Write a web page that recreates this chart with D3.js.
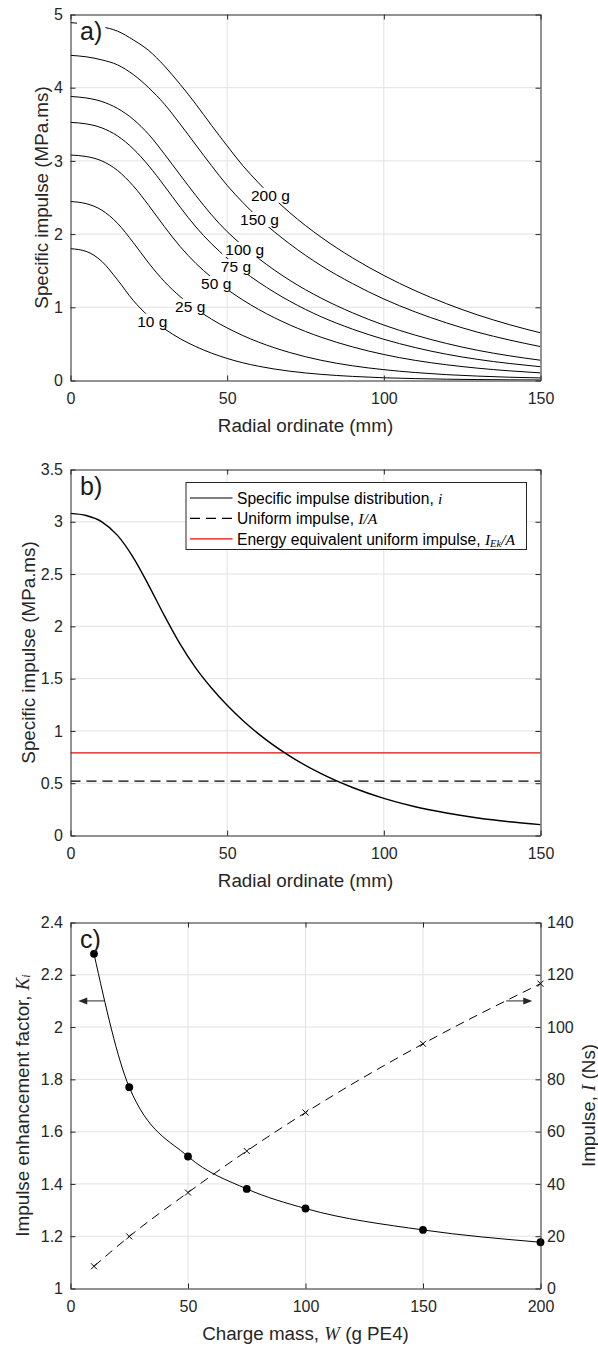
<!DOCTYPE html>
<html>
<head>
<meta charset="utf-8">
<script src="https://cdn.jsdelivr.net/npm/d3@7/dist/d3.min.js"></script>
<style>
html,body{margin:0;padding:0;background:#fff;}
svg{display:block;}
</style>
</head>
<body>
<svg id="chart" width="598" height="1347" xmlns="http://www.w3.org/2000/svg"></svg>
<script>
// ---------------- data ----------------
// panel a) specific impulse profiles vs radial ordinate (mm)
const radial = [0,5,10,15,20,25,30,35,40,45,50,55,60,70,80,90,100,110,120,130,140,150];
const chargeLabels = ["10 g","25 g","50 g","75 g","100 g","150 g","200 g"];
const imp10  = [1.801,1.764,1.627,1.375,1.095,0.875,0.706,0.571,0.463,0.374,0.301,0.242,0.195,0.127,0.084,0.056,0.037,0.026,0.018,0.013,0.009,0.007];
const imp25  = [2.445,2.416,2.327,2.148,1.887,1.602,1.350,1.146,0.979,0.838,0.718,0.614,0.525,0.382,0.276,0.201,0.148,0.109,0.080,0.060,0.045,0.035];
const imp50  = [3.080,3.060,3.000,2.870,2.660,2.390,2.100,1.830,1.600,1.410,1.245,1.100,0.972,0.759,0.591,0.459,0.355,0.275,0.215,0.168,0.132,0.104];
const imp75  = [3.526,3.506,3.451,3.341,3.166,2.932,2.656,2.368,2.098,1.868,1.671,1.498,1.345,1.083,0.871,0.702,0.563,0.450,0.359,0.288,0.233,0.188];
const imp100 = [3.880,3.860,3.811,3.717,3.569,3.360,3.092,2.808,2.527,2.264,2.033,1.841,1.668,1.368,1.125,0.925,0.757,0.620,0.506,0.412,0.338,0.277];
const imp150 = [4.442,4.422,4.380,4.312,4.181,3.998,3.774,3.503,3.218,2.935,2.665,2.432,2.220,1.865,1.569,1.324,1.113,0.937,0.787,0.659,0.554,0.463];
const imp200 = [4.889,4.869,4.832,4.773,4.654,4.507,4.296,4.046,3.775,3.486,3.205,2.935,2.700,2.292,1.957,1.676,1.435,1.227,1.049,0.895,0.764,0.651];
// inline label anchor points (radial mm, specific impulse)
const labelR = [26.1, 38.2, 46.5, 52.8, 55.6, 60.3, 63.8];
const labelV = [0.81, 1.015, 1.325, 1.557, 1.79, 2.20, 2.53];

// panel b) 50 g profile and uniform impulses
const profileB = [3.080,3.060,3.000,2.870,2.660,2.390,2.100,1.830,1.600,1.410,1.245,1.100,0.972,0.759,0.591,0.459,0.355,0.275,0.215,0.168,0.132,0.104];
const uniformImpulse = 0.52;
const energyImpulse = 0.79;

// panel c) enhancement factor & impulse vs charge mass
const chargeMass   = [10, 25, 50, 75, 100, 150, 200];
const enhancement  = [2.28, 1.77, 1.505, 1.381, 1.306, 1.224, 1.177];
const totalImpulse = [8.5, 19.9, 36.7, 52.6, 67.3, 93.6, 116.6];

// ticks
const ticksAX = [0, 50, 100, 150];
const ticksAY = [0, 1, 2, 3, 4, 5];
const ticksBX = [0, 50, 100, 150];
const ticksBY = [0, 0.5, 1, 1.5, 2, 2.5, 3, 3.5];
const ticksCX = [0, 50, 100, 150, 200];
const ticksCY = [1, 1.2, 1.4, 1.6, 1.8, 2, 2.2, 2.4];
const ticksCR = [0, 20, 40, 60, 80, 100, 120, 140];

// ---------------- layout ----------------
const SANS = '"Liberation Sans", Arial, Helvetica, sans-serif';
const SERIF = '"Liberation Serif", "Times New Roman", serif';
const AX = "#262626", GRID = "#e2e2e2";
const L = 70.5, R = 540.5, H = 366;
const tops = [14.5, 469.5, 922.5];
const TICK_FS = 16, LABEL_FS = 18.8, LEG_FS = 15.6, TAG_FS = 25, CL_FS = 15.5;

const svg = d3.select("#chart");
const defs = svg.append("defs");

function styleAxis(sel) {
  sel.attr("font-family", null).attr("font-size", null);
  sel.select(".domain").attr("stroke", AX);
  sel.selectAll(".tick line").attr("stroke", AX);
  sel.selectAll(".tick text").attr("fill", AX).attr("font-family", SANS).attr("font-size", TICK_FS);
}

function makePanel(idx, xDom, yDom, xTicks, yTicks, yRDom, yRTicks) {
  const top = tops[idx];
  const x = d3.scaleLinear().domain(xDom).range([L, R]);
  const y = d3.scaleLinear().domain(yDom).range([top + H, top]);
  const yR = yRDom ? d3.scaleLinear().domain(yRDom).range([top + H, top]) : null;
  const g = svg.append("g");
  const grid = g.append("g").attr("stroke", GRID).attr("stroke-width", 1);
  grid.selectAll("line.gx").data(xTicks.slice(1, -1)).join("line").attr("class", "gx")
    .attr("x1", d => x(d)).attr("x2", d => x(d)).attr("y1", top).attr("y2", top + H);
  grid.selectAll("line.gy").data(yTicks.slice(1, -1)).join("line").attr("class", "gy")
    .attr("x1", L).attr("x2", R).attr("y1", d => y(d)).attr("y2", d => y(d));
  const clipId = "clip" + idx;
  defs.append("clipPath").attr("id", clipId).append("rect")
    .attr("x", L).attr("y", top).attr("width", R - L).attr("height", H);
  const content = g.append("g");
  const axes = g.append("g");
  const fmt = d => String(d);
  axes.append("g").attr("transform", `translate(0,${top + H})`)
    .call(d3.axisBottom(x).tickValues(xTicks).tickFormat(fmt).tickSizeInner(-5).tickSizeOuter(0).tickPadding(12.5)).call(styleAxis);
  axes.append("g").attr("transform", `translate(0,${top})`)
    .call(d3.axisTop(x).tickValues(xTicks).tickFormat("").tickSizeInner(-5).tickSizeOuter(0)).call(styleAxis);
  axes.append("g").attr("transform", `translate(${L},0)`)
    .call(d3.axisLeft(y).tickValues(yTicks).tickFormat(fmt).tickSizeInner(-5).tickSizeOuter(0).tickPadding(7.5)).call(styleAxis);
  if (yR) {
    axes.append("g").attr("transform", `translate(${R},0)`)
      .call(d3.axisRight(yR).tickValues(yRTicks).tickFormat(fmt).tickSizeInner(-5).tickSizeOuter(0).tickPadding(6.5)).call(styleAxis);
  } else {
    axes.append("g").attr("transform", `translate(${R},0)`)
      .call(d3.axisRight(y).tickValues(yTicks).tickFormat("").tickSizeInner(-5).tickSizeOuter(0)).call(styleAxis);
  }
  return { top, x, y, yR, g, content, clipId };
}

function addParts(t, parts) {
  parts.forEach(pt => {
    const s = t.append("tspan").text(pt.t);
    if (pt.it) s.attr("font-family", SERIF).attr("font-style", "italic");
    if (pt.fs) s.attr("font-size", pt.fs);
    if (pt.dy) s.attr("dy", pt.dy);
  });
}
function xLabel(p, parts) {
  const t = p.g.append("text").attr("x", (L + R) / 2).attr("y", p.top + H + 44)
    .attr("text-anchor", "middle").attr("dominant-baseline", "central")
    .attr("font-family", SANS).attr("font-size", LABEL_FS).attr("fill", AX);
  addParts(t, parts);
}
function yLabel(p, parts, cx, rot) {
  const t = p.g.append("text")
    .attr("transform", `translate(${cx},${p.top + H / 2}) rotate(${rot})`)
    .attr("text-anchor", "middle").attr("dominant-baseline", "central")
    .attr("font-family", SANS).attr("font-size", LABEL_FS).attr("fill", AX);
  addParts(t, parts);
}
function tag(p, txt) {
  return p.g.append("text").attr("x", L + 9.5).attr("y", p.top + 25)
    .attr("font-family", SANS).attr("font-size", TAG_FS).attr("fill", "#1a1a1a").text(txt);
}

// ---------------- panel a ----------------
const pa = makePanel(0, [0, 150], [0, 5], ticksAX, ticksAY);
const seriesA = [imp10, imp25, imp50, imp75, imp100, imp150, imp200];
const maskA = defs.append("mask").attr("id", "maskA").attr("maskUnits", "userSpaceOnUse")
  .attr("x", 0).attr("y", 0).attr("width", 598).attr("height", 1347);
maskA.append("rect").attr("x", 0).attr("y", 0).attr("width", 598).attr("height", 1347).attr("fill", "#fff");
const lineA = d3.line().x((d, i) => pa.x(radial[i])).y(d => pa.y(d)).curve(d3.curveMonotoneX);
pa.content.append("g").attr("clip-path", `url(#${pa.clipId})`)
  .append("g").attr("mask", "url(#maskA)")
  .selectAll("path").data(seriesA).join("path")
  .attr("d", d => lineA(d)).attr("fill", "none").attr("stroke", "#000").attr("stroke-width", 1);
const clabels = pa.g.append("g").selectAll("text").data(chargeLabels).join("text")
  .attr("x", (d, i) => pa.x(labelR[i])).attr("y", (d, i) => pa.y(labelV[i]))
  .attr("text-anchor", "middle").attr("dominant-baseline", "central")
  .attr("font-family", SANS).attr("font-size", CL_FS).attr("fill", "#000").text(d => d);
clabels.each(function () {
  const b = this.getBBox();
  maskA.append("rect").attr("x", b.x - 3).attr("y", b.y + 1).attr("width", b.width + 6).attr("height", b.height - 2).attr("fill", "#000");
});
const tagA = tag(pa, "a)");
{
  const b = tagA.node().getBBox();
  maskA.append("rect").attr("x", b.x - 3).attr("y", b.y).attr("width", b.width + 6).attr("height", b.height).attr("fill", "#000");
}
xLabel(pa, [{ t: "Radial ordinate (mm)" }]);
yLabel(pa, [{ t: "Specific impulse (MPa.ms)" }], 41, -90);

// ---------------- panel b ----------------
const pb = makePanel(1, [0, 150], [0, 3.5], ticksBX, ticksBY);
const cb = pb.content.append("g").attr("clip-path", `url(#${pb.clipId})`);
cb.append("line").attr("x1", pb.x(0)).attr("x2", pb.x(150))
  .attr("y1", pb.y(uniformImpulse)).attr("y2", pb.y(uniformImpulse))
  .attr("stroke", "#000").attr("stroke-width", 1.2).attr("stroke-dasharray", "10,6");
cb.append("line").attr("x1", pb.x(0)).attr("x2", pb.x(150))
  .attr("y1", pb.y(energyImpulse)).attr("y2", pb.y(energyImpulse))
  .attr("stroke", "#ff0000").attr("stroke-width", 1.2);
const lineB = d3.line().x((d, i) => pb.x(radial[i])).y(d => pb.y(d)).curve(d3.curveMonotoneX);
cb.append("path").attr("d", lineB(profileB)).attr("fill", "none").attr("stroke", "#000").attr("stroke-width", 1.4);
tag(pb, "b)");
xLabel(pb, [{ t: "Radial ordinate (mm)" }]);
yLabel(pb, [{ t: "Specific impulse (MPa.ms)" }], 28, -90);

// legend
{
  const bx = R - 354.5, by = pb.top + 13, bw = 340.5, bh = 67;
  const lg = pb.g.append("g");
  lg.append("rect").attr("x", bx).attr("y", by).attr("width", bw).attr("height", bh)
    .attr("fill", "#fff").attr("stroke", AX).attr("stroke-width", 1);
  const items = [
    { dash: null, color: "#000", parts: [{ t: "Specific impulse distribution, " }, { t: "i", it: true }] },
    { dash: "10,6", color: "#000", parts: [{ t: "Uniform impulse, " }, { t: "I/A", it: true }] },
    { dash: null, color: "#ff0000", parts: [{ t: "Energy equivalent uniform impulse, " }, { t: "I", it: true },
        { t: "Ek", it: true, fs: 10.5, dy: 4 }, { t: "/A", it: true, dy: -4 }] }
  ];
  items.forEach((it, i) => {
    const yy = by + 15.5 + i * 20.4;
    lg.append("line").attr("x1", bx + 4).attr("x2", bx + 46.5).attr("y1", yy).attr("y2", yy)
      .attr("stroke", it.color).attr("stroke-width", 1.2).attr("stroke-dasharray", it.dash);
    const t = lg.append("text").attr("x", bx + 51).attr("y", yy).attr("dominant-baseline", "central")
      .attr("font-family", SANS).attr("font-size", LEG_FS).attr("fill", "#000");
    addParts(t, it.parts);
  });
}

// ---------------- panel c ----------------
const pc = makePanel(2, [0, 200], [1, 2.4], ticksCX, ticksCY, [0, 140], ticksCR);
const cc = pc.content.append("g");
const lineK = d3.line().x((d, i) => pc.x(chargeMass[i])).y(d => pc.y(d)).curve(d3.curveMonotoneX);
const lineI = d3.line().x((d, i) => pc.x(chargeMass[i])).y(d => pc.yR(d)).curve(d3.curveMonotoneX);
cc.append("path").attr("d", lineI(totalImpulse)).attr("fill", "none").attr("stroke", "#000")
  .attr("stroke-width", 1).attr("stroke-dasharray", "9,6");
cc.append("path").attr("d", lineK(enhancement)).attr("fill", "none").attr("stroke", "#000").attr("stroke-width", 1);
cc.selectAll("circle").data(enhancement).join("circle")
  .attr("cx", (d, i) => pc.x(chargeMass[i])).attr("cy", d => pc.y(d)).attr("r", 3.9).attr("fill", "#000");
cc.selectAll("path.xm").data(totalImpulse).join("path").attr("class", "xm")
  .attr("transform", (d, i) => `translate(${pc.x(chargeMass[i])},${pc.yR(d)})`)
  .attr("d", "M-3,-3L3,3M-3,3L3,-3").attr("stroke", "#000").attr("stroke-width", 1).attr("fill", "none");

// arrows pointing to the relevant axes
function arrow(x1, y1, x2, y2) {
  const dir = Math.sign(x2 - x1);
  cc.append("line").attr("x1", x1).attr("x2", x2 - dir * 8).attr("y1", y1).attr("y2", y2)
    .attr("stroke", AX).attr("stroke-width", 1);
  cc.append("path").attr("d", `M${x2},${y2}L${x2 - dir * 9},${y2 - 3.5}L${x2 - dir * 9},${y2 + 3.5}Z`).attr("fill", AX);
}
arrow(pc.x(14.7), pc.y(2.1), pc.x(3.3), pc.y(2.1));
arrow(pc.x(185.4), pc.yR(110), pc.x(196.5), pc.yR(110));

tag(pc, "c)");
xLabel(pc, [{ t: "Charge mass, " }, { t: "W", it: true }, { t: " (g PE4)" }]);
yLabel(pc, [{ t: "Impulse enhancement factor, " }, { t: "K", it: true }, { t: "i", it: true, fs: 12, dy: 4 }], 22, -90);
yLabel(pc, [{ t: "Impulse, " }, { t: "I", it: true }, { t: " (Ns)" }], 588, -90);
</script>
</body>
</html>
